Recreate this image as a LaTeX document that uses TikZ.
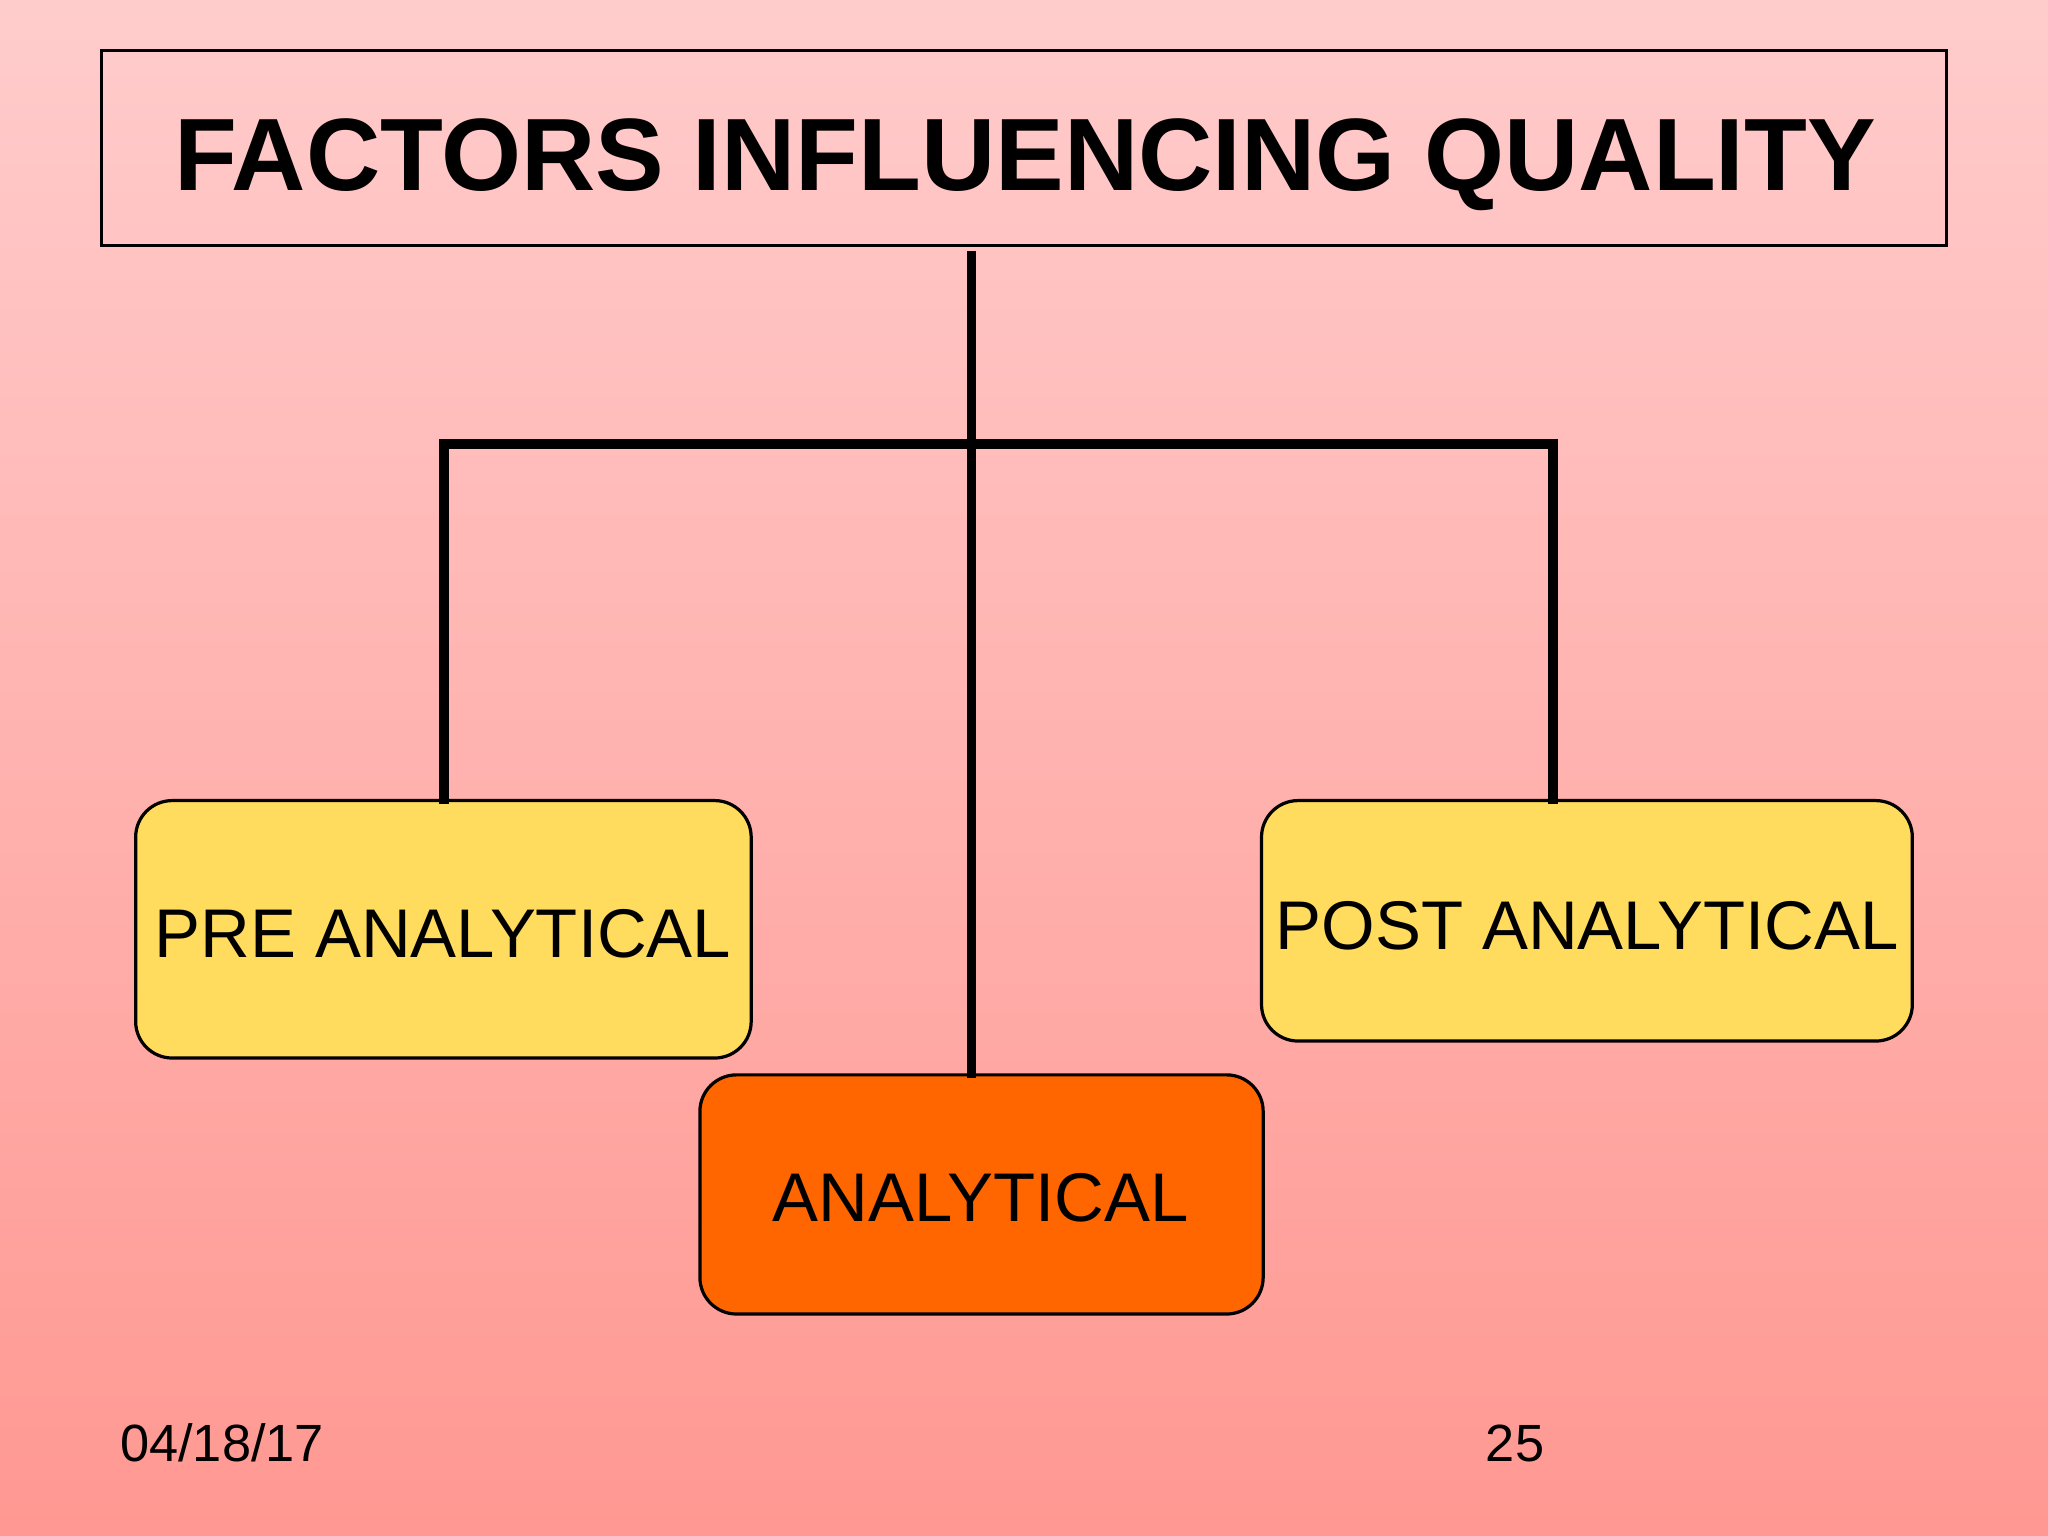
\documentclass[tikz,border=0pt]{standalone}
\usepackage{fontspec}
\setmainfont{Liberation Sans}
\begin{document}
\begin{tikzpicture}[x=0.01cm,y=-0.01cm,
  box/.style={draw=black,line width=0.7pt,rounded corners=0.28cm,inner sep=0pt},
  conn/.style={line width=2pt,line cap=rect},
  lbl/.style={font=\fontsize{15pt}{17pt}\selectfont,inner sep=0pt}]
\shade[top color=red!20!white,bottom color=red!40!white!95!orange, shading angle=0] (0,0) rectangle (1568,1176);
\useasboundingbox (0,0) rectangle (1568,1176);
\node[draw=black,line width=0.6pt,minimum width=14.12cm,minimum height=1.49cm,inner sep=0pt] (title) at (784,113.5) {};
\node[font=\bfseries\fontsize{22.4pt}{24pt}\selectfont,inner sep=0pt] (tt) at (785,126) {FACTORS INFLUENCING QUALITY};
\node[box,fill={rgb,255:red,255;green,219;blue,94},minimum width=4.71cm,minimum height=1.97cm] (pre) at (339.5,711.5) {};
\node[lbl] at (339,715) {PRE ANALYTICAL};
\node[box,fill={rgb,255:red,255;green,219;blue,94},minimum width=4.98cm,minimum height=1.84cm] (post) at (1215,705) {};
\node[lbl] at (1215,709) {POST ANALYTICAL};
\node[box,fill={rgb,255:red,255;green,102;blue,0},minimum width=4.31cm,minimum height=1.83cm] (ana) at (751.5,914.5) {};
\node[lbl] at (751,917) {ANALYTICAL};
\coordinate (top) at (744,196);
\coordinate (hl) at (340,340);
\coordinate (hr) at (1189,340);
\draw[conn] (top) -- (ana.north -| top);
\draw[conn] (hl) -- (hr);
\draw[conn] (hl) -- (pre.north -| hl);
\draw[conn] (hr) -- (post.north -| hr);
\node[font=\fontsize{11.4pt}{13pt}\selectfont,inner sep=0pt] (date) at (170,1105) {04/18/17};
\node[font=\fontsize{11.4pt}{13pt}\selectfont,inner sep=0pt] (pg) at (1160,1105) {25};
\end{tikzpicture}
\end{document}
